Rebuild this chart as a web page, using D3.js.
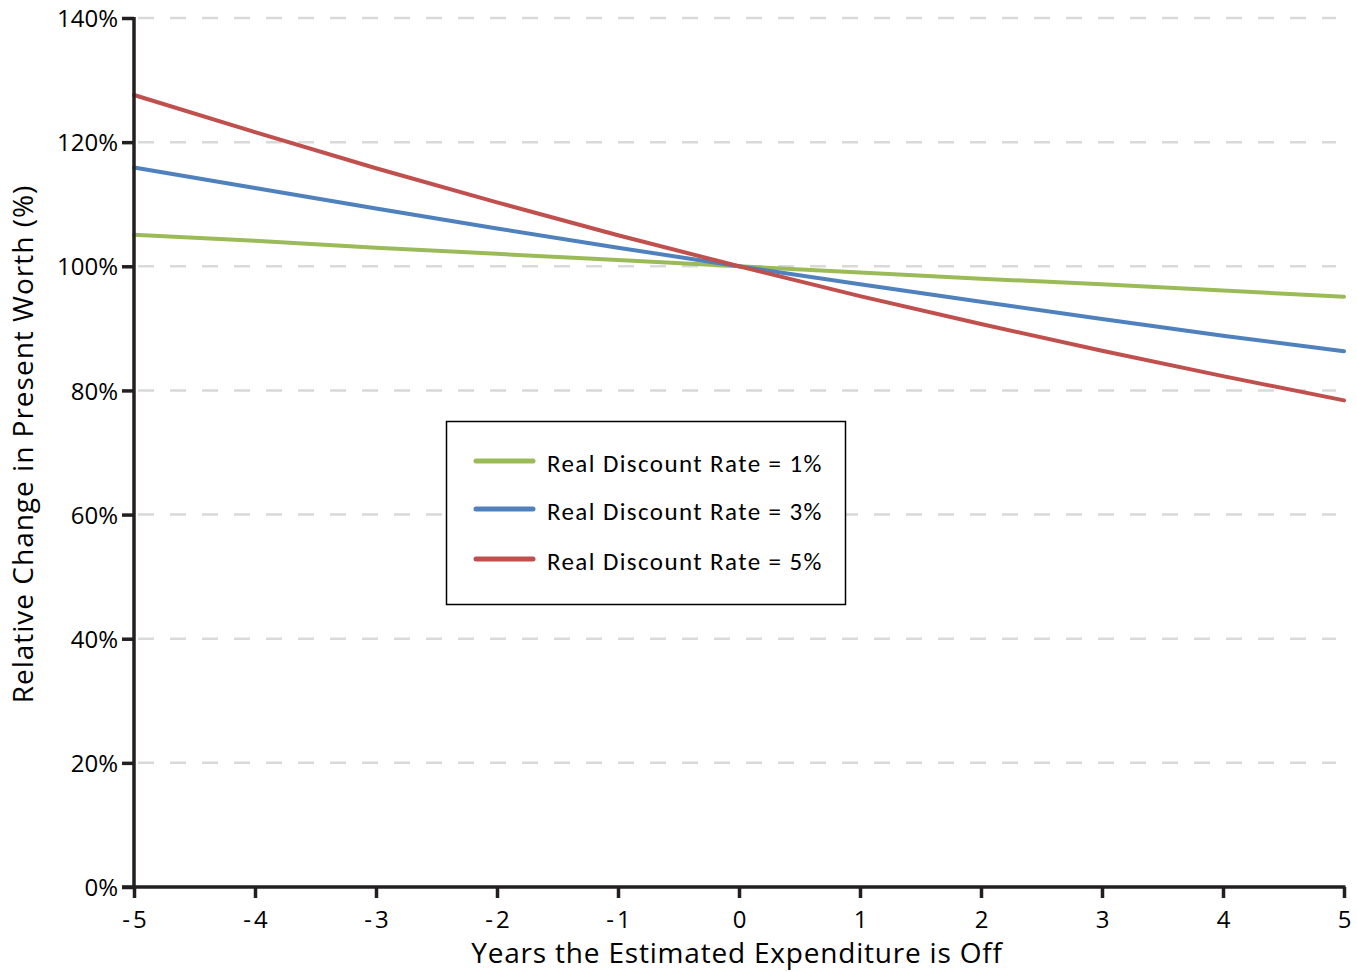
<!DOCTYPE html>
<html>
<head>
<meta charset="utf-8">
<script src="https://cdn.jsdelivr.net/npm/d3@7"></script>
<style>
  html, body { margin: 0; padding: 0; background: #fff; }
  svg { display: block; }
</style>
</head>
<body>
<svg id="chart" width="1357" height="972"></svg>
<script>
// Years the estimated expenditure is off
const years = [-5, -4, -3, -2, -1, 0, 1, 2, 3, 4, 5];

// Relative change in present worth (%) for each real discount rate
const rate1 = [105.1, 104.1, 103.0, 102.0, 101.0, 100.0, 99.0, 98.0, 97.1, 96.1, 95.1];
const rate3 = [115.9, 112.6, 109.3, 106.1, 103.0, 100.0, 97.1, 94.3, 91.5, 88.8, 86.3];
const rate5 = [127.6, 121.6, 115.8, 110.3, 105.0, 100.0, 95.2, 90.7, 86.4, 82.3, 78.4];

const seriesNames = ["Real Discount Rate = 1%", "Real Discount Rate = 3%", "Real Discount Rate = 5%"];
const seriesColors = ["#9bbb59", "#4f81bd", "#c0504d"];

const yTicks = [0, 20, 40, 60, 80, 100, 120, 140];
const xTicks = [-5, -4, -3, -2, -1, 0, 1, 2, 3, 4, 5];

const series = [rate1, rate3, rate5].map((vals, i) => ({
  name: seriesNames[i],
  color: seriesColors[i],
  points: years.map((yr, j) => ({ x: yr, y: vals[j] }))
}));

const svg = d3.select("#chart");
const plotLeft = 134, plotRight = 1344, plotTop = 18, plotBottom = 887;
const axisFont = "'Open Sans', 'Noto Sans', sans-serif";
const axisColor = "#231f20";

const x = d3.scaleLinear().domain([-5, 5]).range([plotLeft, plotRight]);
const y = d3.scaleLinear().domain([0, 140]).range([plotBottom, plotTop]);

// Dashed horizontal gridlines
svg.append("g")
  .selectAll("line")
  .data(yTicks.filter(d => d > 0))
  .join("line")
  .attr("x1", plotLeft + 1)
  .attr("x2", 1336)
  .attr("y1", d => y(d))
  .attr("y2", d => y(d))
  .attr("stroke", "#d9d9d9")
  .attr("stroke-width", 2.5)
  .attr("stroke-dasharray", "16,16")
  .attr("stroke-dashoffset", -3);

// Series lines
const line = d3.line().x(d => x(d.x)).y(d => y(d.y));
svg.append("g")
  .selectAll("path")
  .data(series)
  .join("path")
  .attr("d", d => line(d.points))
  .attr("fill", "none")
  .attr("stroke", d => d.color)
  .attr("stroke-width", 4)
  .attr("stroke-linecap", "round")
  .attr("stroke-linejoin", "round");

// Y axis
const yAxis = svg.append("g")
  .attr("transform", `translate(${plotLeft},0)`)
  .call(d3.axisLeft(y).tickValues(yTicks).tickSize(12).tickPadding(4).tickFormat(d => d + "%"));
yAxis.select(".domain").attr("stroke", axisColor).attr("stroke-width", 3.5)
  .attr("d", `M0,${plotTop - 1}V${plotBottom + 1.5}`);
yAxis.selectAll(".tick line").attr("stroke", axisColor).attr("stroke-width", 3.5);
yAxis.selectAll(".tick text")
  .attr("fill", "#000")
  .attr("font-family", axisFont)
  .attr("font-size", 24)
  .attr("dy", "0.36em");

// X axis
const xAxis = svg.append("g")
  .attr("transform", `translate(0,${plotBottom})`)
  .call(d3.axisBottom(x).tickValues(xTicks).tickSize(11).tickPadding(13).tickFormat(d => d < 0 ? "-" + Math.abs(d) : String(d)));
xAxis.select(".domain").attr("stroke", axisColor).attr("stroke-width", 3.5)
  .attr("d", `M${plotLeft - 12},0H${plotRight + 1.5}`);
xAxis.selectAll(".tick line").attr("stroke", axisColor).attr("stroke-width", 3.5);
xAxis.selectAll(".tick text")
  .attr("fill", "#000")
  .attr("font-family", axisFont)
  .attr("font-size", 24)
  .attr("letter-spacing", "3px")
  .attr("dx", "1.5px");

// Axis titles
svg.append("text")
  .attr("x", 737)
  .attr("y", 963)
  .attr("text-anchor", "middle")
  .attr("font-family", axisFont)
  .attr("font-size", 28)
  .attr("letter-spacing", "0.8px")
  .attr("fill", "#000")
  .text("Years the Estimated Expenditure is Off");

svg.append("text")
  .attr("transform", "translate(33,444) rotate(-90)")
  .attr("text-anchor", "middle")
  .attr("font-family", axisFont)
  .attr("font-size", 28)
  .attr("letter-spacing", "1px")
  .attr("fill", "#000")
  .text("Relative Change in Present Worth (%)");

// Legend
const legend = svg.append("g");
legend.append("rect")
  .attr("x", 446.5).attr("y", 421.5)
  .attr("width", 399).attr("height", 183)
  .attr("fill", "#fff")
  .attr("stroke", "#000")
  .attr("stroke-width", 1.5);

const legendRows = [461, 509, 559];
const items = legend.selectAll("g.item")
  .data(series)
  .join("g")
  .attr("class", "item")
  .attr("transform", (d, i) => `translate(0,${legendRows[i]})`);
items.append("line")
  .attr("x1", 476).attr("x2", 533)
  .attr("stroke", d => d.color)
  .attr("stroke-width", 5)
  .attr("stroke-linecap", "round");
items.append("text")
  .attr("x", 547)
  .attr("y", 2)
  .attr("dy", "0.36em")
  .attr("font-family", "Carlito, Calibri, 'Open Sans', sans-serif")
  .attr("font-size", 25)
  .attr("letter-spacing", "1.4px")
  .attr("fill", "#000")
  .text(d => d.name);
</script>
</body>
</html>
